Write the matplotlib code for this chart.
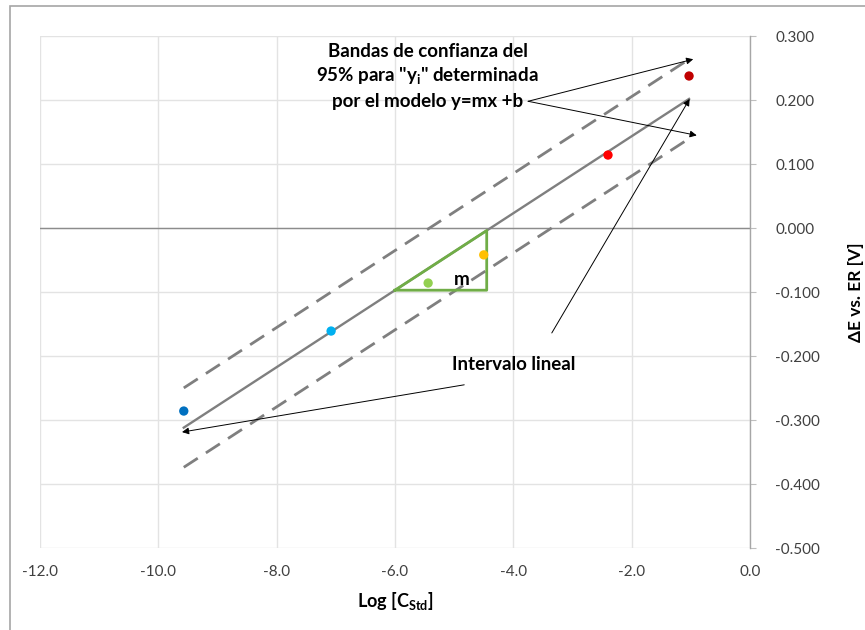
import numpy as np
import matplotlib.pyplot as plt
from matplotlib.patches import Rectangle

plt.rcParams['font.family'] = ['Lato', 'DejaVu Sans']
plt.rcParams['mathtext.fontset'] = 'custom'
plt.rcParams['mathtext.rm'] = 'Lato'
plt.rcParams['mathtext.bf'] = 'Lato:bold'

# calibration points: log of standard concentration vs. potential
log_c = [-9.57, -7.08, -5.44, -4.50, -2.40, -1.03]
delta_e = [-0.286, -0.161, -0.086, -0.042, 0.114, 0.2375]
point_colors = ['#0070C0', '#00B0F0', '#92D050', '#FFC000', '#FF0000', '#C00000']

band_half = 0.062          # half width of the 95% band
slope_tri_x = [-6.0, -4.45]  # base of the slope triangle

x_ticks = np.arange(-12, 0.1, 2)
y_ticks = np.round(np.arange(-0.5, 0.31, 0.1), 3)

m, b = np.polyfit(log_c, delta_e, 1)
xs = np.array([min(log_c), max(log_c)])
fit = m * xs + b

fig = plt.figure(figsize=(8.65, 6.3), dpi=100)
fig.patches.append(Rectangle((10 / 865, -0.1), 1.2, (630 - 6) / 630 + 0.1,
                             transform=fig.transFigure, fill=False,
                             edgecolor='#A6A6A6', lw=1.2))
ax = fig.add_axes([40 / 865, 82 / 630, 710 / 865, 512 / 630])

ax.set_xlim(-12, 0)
ax.set_ylim(-0.5, 0.3)
ax.set_xticks(x_ticks)
ax.set_yticks(y_ticks)
ax.set_xticklabels([f'{v:.1f}' for v in x_ticks], fontsize=11, color='#404040')
ax.set_yticklabels([f'{v + 0.0:.3f}' if abs(v) > 1e-9 else '0.000' for v in y_ticks],
                   fontsize=11, color='#404040')
ax.yaxis.tick_right()
ax.yaxis.set_label_position('right')
ax.tick_params(axis='x', length=0, pad=12)
ax.tick_params(axis='y', length=4, width=0.8, color='#BFBFBF', pad=14)
for s in ['top', 'left', 'bottom']:
    ax.spines[s].set_visible(False)
ax.spines['right'].set_color('#A6A6A6')
ax.spines['right'].set_linewidth(1.0)
ax.grid(True, color='#E3E3E3', lw=1.0)
ax.set_axisbelow(True)
# horizontal axis line crossing at zero
ax.axhline(0, color='#8C8C8C', lw=1.0, zorder=1)

ax.set_xlabel(r'Log [C$_{\mathbf{Std}}$]', fontsize=13, fontweight='bold', labelpad=8)
ax.set_ylabel('ΔE vs. ER [V]', fontsize=12.5, fontweight='bold', labelpad=20)

# regression line and confidence bands
ax.plot(xs, fit, color='#7F7F7F', lw=1.7, zorder=2)
ax.plot(xs, fit + band_half, color='#7F7F7F', lw=2.0, ls=(0, (6, 3.5)), zorder=2)
ax.plot(xs, fit - band_half, color='#7F7F7F', lw=2.0, ls=(0, (6, 3.5)), zorder=2)

# slope triangle
tx0, tx1 = slope_tri_x
ty0 = m * tx0 + b
ty1 = m * tx1 + b
ax.plot([tx0, tx1, tx1, tx0], [ty0, ty0, ty1, ty0], color='#70AD47', lw=2.0, zorder=3)
ax.text(-4.87, -0.08, 'm', fontsize=13.5, fontweight='bold', ha='center', va='center')

ax.scatter(log_c, delta_e, c=point_colors, s=45, zorder=4, edgecolors='none')

arrow = dict(arrowstyle='-|>', color='black', lw=0.7, mutation_scale=10,
             shrinkA=0, shrinkB=0)

ax.text(-5.45, 0.237, 'Bandas de confianza del\n95% para "y$_{\\mathbf{i}}$" determinada\npor el modelo y=mx +b',
        fontsize=13.5, fontweight='bold', ha='center', va='center', linespacing=1.4)
src = (-3.75, 0.198)
ax.annotate('', xy=(xs[1] + 0.07, fit[1] + band_half), xytext=src, arrowprops=arrow)
ax.annotate('', xy=(xs[1] + 0.13, fit[1] - band_half + 0.005), xytext=src, arrowprops=arrow)

ax.text(-4.0, -0.222, 'Intervalo lineal', fontsize=13.5, fontweight='bold',
        ha='center', va='baseline')
ax.annotate('', xy=(xs[1] + 0.01, fit[1]), xytext=(-3.35, -0.164), arrowprops=arrow)
ax.annotate('', xy=(xs[0] - 0.03, fit[0] - 0.007), xytext=(-4.83, -0.245), arrowprops=arrow)

fig.savefig('out.png', dpi=100)
